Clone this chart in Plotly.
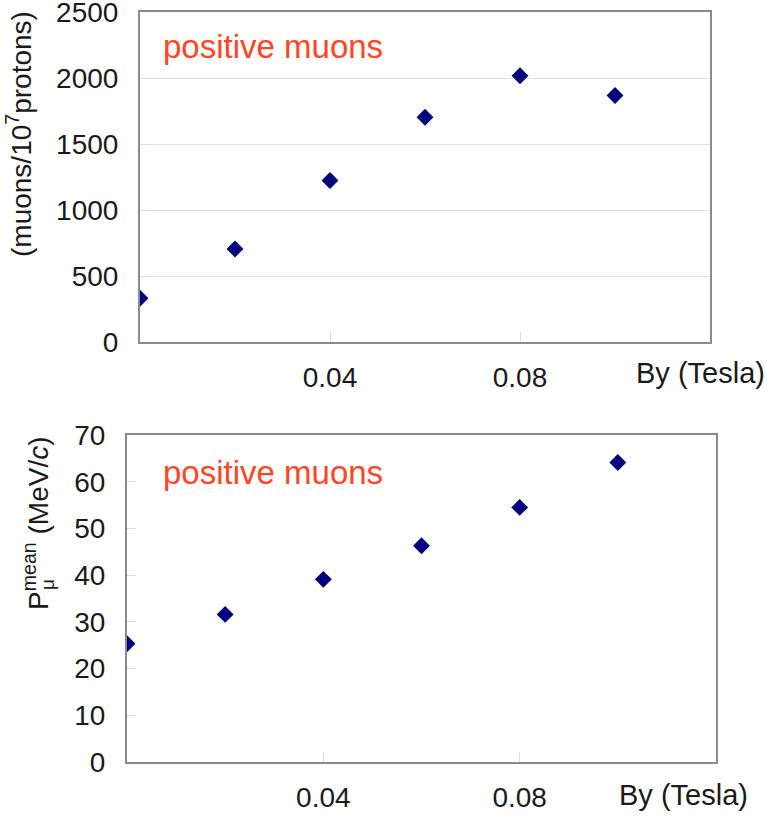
import plotly.graph_objects as go

# Data
by_tesla = [0.0, 0.02, 0.04, 0.06, 0.08, 0.10]
muon_yield = [332, 705, 1224, 1703, 2017, 1867]
p_mean = [25.3, 31.6, 39.1, 46.3, 54.5, 64.1]

x_ticks = [0.04, 0.08]
x_tick_text = ["0.04", "0.08"]

W, H = 767, 816
FONT = "Liberation Sans, Arial, sans-serif"
TXT = "#1a1a1a"
AX = "#8a8a8a"
RED = "#ff4422"
NAVY = "#000080"
TICK_SIZE = 28

def px(x):
    return x / W

def py(y):
    return 1 - y / H

fig = go.Figure()
fig.add_trace(go.Scatter(x=by_tesla, y=muon_yield, mode="markers", xaxis="x", yaxis="y",
                         marker=dict(symbol="diamond", size=13, color=NAVY), showlegend=False))
fig.add_trace(go.Scatter(x=by_tesla, y=p_mean, mode="markers", xaxis="x2", yaxis="y2",
                         marker=dict(symbol="diamond", size=13, color=NAVY), showlegend=False))

common_x = dict(range=[0, 0.12], tickvals=x_ticks, ticktext=x_tick_text, showgrid=False,
                zeroline=False, showline=True, linecolor=AX, linewidth=2, mirror=True,
                ticks="inside", ticklen=10, tickcolor="#dddddd", tickwidth=1, automargin=False,
                ticklabeloverflow="allow",
                tickfont=dict(family=FONT, size=TICK_SIZE, color=TXT), ticklabelstandoff=9)

common_y = dict(zeroline=False, showline=True, linecolor=AX, linewidth=2, mirror=True,
                ticks="inside", ticklen=9, tickcolor="#dddddd", automargin=False,
                ticklabeloverflow="allow",
                tickfont=dict(family=FONT, size=TICK_SIZE, color=TXT), ticklabelstandoff=14)

fig.update_layout(
    width=W, height=H, margin=dict(l=0, r=0, t=0, b=0, autoexpand=False),
    paper_bgcolor="white", plot_bgcolor="white",
    xaxis=dict(domain=[px(140), px(710)], anchor="y", **common_x),
    yaxis=dict(domain=[py(342), py(12)], anchor="x", range=[0, 2500], dtick=500,
               showgrid=True, gridcolor="#e2e2e2", gridwidth=1, **common_y),
    xaxis2=dict(domain=[px(127), px(716)], anchor="y2", **common_x),
    yaxis2=dict(domain=[py(762), py(435)], anchor="x2", range=[0, 70], dtick=10,
                showgrid=False, **common_y),
)

ann = []
# "positive muons" labels
ann.append(dict(x=px(161), y=py(46), xref="paper", yref="paper", xanchor="left", yanchor="middle",
                text="positive muons", showarrow=False, font=dict(family=FONT, size=33, color=RED)))
ann.append(dict(x=px(161), y=py(472), xref="paper", yref="paper", xanchor="left", yanchor="middle",
                text="positive muons", showarrow=False, font=dict(family=FONT, size=33, color=RED)))
# x-axis titles
ann.append(dict(x=px(767), y=py(373), xref="paper", yref="paper", xanchor="right", yanchor="middle",
                text="By (Tesla)", showarrow=False, font=dict(family=FONT, size=29, color=TXT)))
ann.append(dict(x=px(750), y=py(795), xref="paper", yref="paper", xanchor="right", yanchor="middle",
                text="By (Tesla)", showarrow=False, font=dict(family=FONT, size=29, color=TXT)))
# y-axis titles
ann.append(dict(x=px(19), y=py(134), xref="paper", yref="paper", xanchor="center", yanchor="middle",
                text="(muons/10<sup>7</sup>protons)", textangle=-90, showarrow=False,
                font=dict(family=FONT, size=28, color=TXT)))
ann.append(dict(x=px(36), y=py(523), xref="paper", yref="paper", xanchor="center", yanchor="middle",
                text="P<sup>mean</sup> (MeV/<i>c</i>)", textangle=-90, showarrow=False,
                font=dict(family=FONT, size=28, color=TXT)))
ann.append(dict(x=px(47), y=py(585), xref="paper", yref="paper", xanchor="center", yanchor="middle",
                text="μ", textangle=-90, showarrow=False,
                font=dict(family=FONT, size=19, color=TXT)))
fig.update_layout(annotations=ann)

fig.write_html("out.html")
